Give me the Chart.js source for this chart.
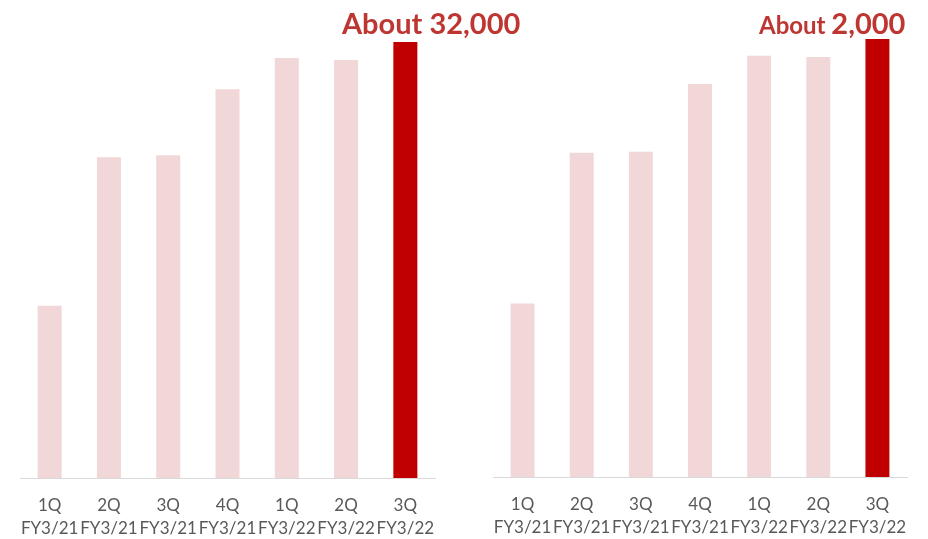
<!DOCTYPE html>
<html><head><meta charset="utf-8">
<script src="https://cdn.jsdelivr.net/npm/chart.js@4"></script>
<style>
html,body{margin:0;padding:0;background:#fff;}
#wrap{position:relative;width:928px;height:539px;overflow:hidden;}
.pane{position:absolute;top:0;width:464px;height:539px;}
.note{position:absolute;font-family:Lato,"Open Sans",sans-serif;font-weight:bold;color:#BE3631;white-space:nowrap;line-height:1;}
</style></head>
<body><div id="wrap">
<div class="pane" style="left:0"><canvas id="c1" width="464" height="539"></canvas></div>
<div class="pane" style="left:464px"><canvas id="c2" width="464" height="539"></canvas></div>
<div class="note" id="n1" style="left:342px;top:8px;font-size:29px;">About 32,000</div>
<div class="note" id="n2" style="left:759px;top:8px;"><span style="font-size:24px">About </span><span style="font-size:29px">2,000</span></div>
</div>
<script>
const categories = [["1Q","FY3/21"],["2Q","FY3/21"],["3Q","FY3/21"],["4Q","FY3/21"],["1Q","FY3/22"],["2Q","FY3/22"],["3Q","FY3/22"]];
const leftValues = [12650, 23540, 23690, 28540, 30820, 30680, 32000];
const rightValues = [793, 1481, 1485, 1795, 1923, 1918, 2000];
const pastColor = "#F2D7D8";
const currentColor = "#C00000";

function makeChart(id, values, maxVal, pad) {
  const colors = values.map((v,i)=> i===values.length-1 ? currentColor : pastColor);
  return new Chart(document.getElementById(id), {
    type: 'bar',
    data: { labels: categories, datasets: [{ data: values, backgroundColor: colors, borderWidth: 0, barPercentage: 0.405, categoryPercentage: 1 }] },
    options: {
      responsive: false, animation: false,
      layout: { padding: pad },
      plugins: { legend: { display: false }, tooltip: { enabled: false } },
      scales: {
        y: { display: false, min: 0, max: maxVal },
        x: {
          grid: { display: false, drawTicks: false },
          border: { display: true, color: '#D9D9D9', width: 1 },
          ticks: { color: '#595959', font: { family: 'Lato, "Open Sans", sans-serif', size: 17, lineHeight: 1.35 }, padding: 16, maxRotation: 0, autoSkip: false }
        }
      }
    }
  });
}
makeChart('c1', leftValues, 32000, { left: 20, right: 29, top: 42, bottom: -17 });
makeChart('c2', rightValues, 2000, { left: 29, right: 21, top: 39, bottom: -16 });
</script>
</body></html>
